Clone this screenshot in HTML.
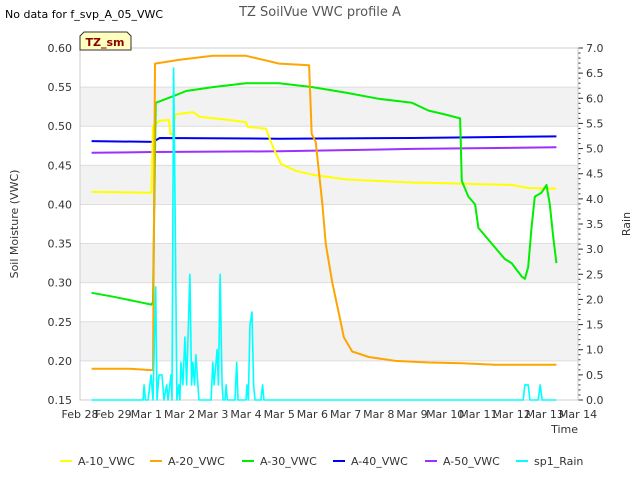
<!DOCTYPE html>
<html><head><meta charset="utf-8"><style>
body{margin:0;background:#fff;font-family:"DejaVu Sans","Liberation Sans",sans-serif;}
</style></head><body>
<svg id="c" width="640" height="480" xmlns="http://www.w3.org/2000/svg" font-family="DejaVu Sans, Liberation Sans, sans-serif"></svg>
<script>
const xTickLabels=["Feb 28","Feb 29","Mar 1","Mar 2","Mar 3","Mar 4","Mar 5","Mar 6","Mar 7","Mar 8","Mar 9","Mar 10","Mar 11","Mar 12","Mar 13","Mar 14"];
const yTicks=[0.15,0.20,0.25,0.30,0.35,0.40,0.45,0.50,0.55,0.60];
const y2Ticks=[0,0.5,1,1.5,2,2.5,3,3.5,4,4.5,5,5.5,6,6.5,7];
const a10Days=[0.35,2.15,2.2,2.4,2.68,2.72,2.8,2.86,3.4,3.6,4.5,5.0,5.05,5.6,5.75,5.85,6.05,6.5,7.0,8,9,10,11,12,13,13.5,14.35];
const a10Vals=[0.416,0.415,0.50,0.507,0.508,0.49,0.49,0.515,0.518,0.512,0.508,0.505,0.499,0.497,0.48,0.47,0.452,0.443,0.438,0.432,0.430,0.428,0.427,0.426,0.425,0.421,0.42];
const a20Days=[0.35,1.5,2.2,2.26,3,4,5,5.5,6,6.9,6.98,7.1,7.3,7.4,7.6,7.8,7.95,8.2,8.7,9.5,10.5,11.5,12.5,14.35];
const a20Vals=[0.19,0.19,0.188,0.58,0.585,0.59,0.59,0.585,0.58,0.578,0.49,0.48,0.40,0.35,0.30,0.26,0.23,0.212,0.205,0.200,0.198,0.197,0.195,0.195];
const a30Days=[0.35,1,1.8,2.15,2.2,2.28,2.6,2.9,3.2,4,5,6,7,8,9,10,10.5,11,11.45,11.5,11.7,11.9,12.0,12.3,12.6,12.8,13.0,13.3,13.4,13.5,13.6,13.7,13.9,14.05,14.15,14.25,14.35];
const a30Vals=[0.287,0.282,0.275,0.272,0.275,0.53,0.535,0.54,0.545,0.55,0.555,0.555,0.55,0.543,0.535,0.53,0.52,0.515,0.51,0.43,0.41,0.40,0.37,0.355,0.34,0.33,0.325,0.308,0.305,0.32,0.37,0.41,0.415,0.425,0.40,0.36,0.325];
const a40Days=[0.35,2.2,2.4,6,10,14.35];
const a40Vals=[0.481,0.480,0.485,0.484,0.485,0.487];
const a50Days=[0.35,2.2,6,10,14.35];
const a50Vals=[0.466,0.467,0.468,0.471,0.473];
const rainDays=[0.35,1.9,1.93,1.97,2.05,2.14,2.2,2.28,2.32,2.38,2.47,2.53,2.61,2.65,2.74,2.77,2.82,2.86,2.92,2.98,3.01,3.04,3.1,3.16,3.21,3.31,3.36,3.4,3.45,3.49,3.55,3.58,3.95,4.0,4.04,4.13,4.17,4.22,4.28,4.31,4.37,4.4,4.44,4.67,4.72,4.76,5.0,5.03,5.07,5.12,5.18,5.23,5.27,5.45,5.5,5.54,13.35,13.4,13.5,13.55,13.8,13.86,13.92,14.35];
const rainVals=[0,0,0.3,0,0,0.5,0,2.25,0,0.5,0.5,0,0.3,0,0.5,0,6.6,4.0,0,0.3,0,0.75,0.3,1.25,0.3,2.5,0.3,0.75,0.3,0.9,0.3,0,0,0.75,0.3,1.0,0.3,2.5,0.3,0,0,0.3,0,0,0.75,0,0,0.3,0,1.5,1.75,0.3,0,0,0.3,0,0,0.3,0.3,0,0,0.3,0,0];
const L=80,R=578,T=48,B=400;
const xs=d=>L+(R-L)*d/15;
const ys=v=>B-(B-T)*(v-0.15)/0.45;
const y2s=v=>B-(B-T)*v/7;
const svg=document.getElementById('c');
const NS='http://www.w3.org/2000/svg';
function mk(tag,attrs,parent){const e=document.createElementNS(NS,tag);for(const k in attrs)e.setAttribute(k,attrs[k]);(parent||svg).appendChild(e);return e;}
for(let i=0;i<4;i++){const lo=0.20+i*0.10;const r=mk('rect',{x:L,y:ys(lo+0.05),width:R-L,height:ys(lo)-ys(lo+0.05),fill:'#f2f2f2'});

}
yTicks.forEach(v=>{const g=mk('line',{x1:L,x2:R,y1:ys(v),y2:ys(v),stroke:'#dddddd','stroke-width':1});


const t=mk('text',{x:L-8,y:ys(v)+4,'text-anchor':'end','font-size':11,fill:'#333'});t.textContent=v.toFixed(2);

});
for(let i=0;i<xTickLabels.length;i++){
const t=mk('text',{x:xs(i),y:B+18,'text-anchor':'middle','font-size':11,fill:'#333'});t.textContent=xTickLabels[i];

}
y2Ticks.forEach(v=>{const tk=mk('line',{x1:R,x2:R+5,y1:y2s(v),y2:y2s(v),stroke:'#333'});


const t=mk('text',{x:R+8,y:y2s(v)+4,'font-size':11,fill:'#333'});t.textContent=v.toFixed(1);

});
for(let v=0;v<=7.001;v+=0.1){const tk=mk('line',{x1:R,x2:R+2.5,y1:y2s(v),y2:y2s(v),stroke:'#333'});

}
const ax=mk('rect',{x:L,y:T,width:R-L,height:B-T,fill:'none',stroke:'#cccccc'});


function series(days,vals,color,name,scale,w){const p=days.map((d,i)=>xs(d).toFixed(1)+','+scale(vals[i]).toFixed(1)).join(' ');
const e=mk('polyline',{points:p,fill:'none',stroke:color,'stroke-width':w||2,'stroke-linejoin':'round'});

}
series(a50Days,a50Vals,'#9b30ff','a-50-vwc-line',ys);
series(a40Days,a40Vals,'#0000ee','a-40-vwc-line',ys);
series(a10Days,a10Vals,'#ffff00','a-10-vwc-line',ys);
series(a30Days,a30Vals,'#00ee00','a-30-vwc-line',ys);
series(a20Days,a20Vals,'#ffa500','a-20-vwc-line',ys);
series(rainDays,rainVals,'#00ffff','sp1-rain-line',y2s,1.6);
function txt(x,y,s,attrs,name){const t=mk('text',Object.assign({x:x,y:y},attrs));t.textContent=s;

return t;}
txt(320,16,'TZ SoilVue VWC profile A',{'text-anchor':'middle','font-size':13,fill:'#555'},'chart-title');
txt(5,18,'No data for f_svp_A_05_VWC',{'font-size':11,fill:'#000'},'no-data-note');
txt(18,224,'Soil Moisture (VWC)',{'text-anchor':'middle','font-size':11,fill:'#333',transform:'rotate(-90 18 224)'},'y-axis-title');
txt(630,224,'Rain',{'text-anchor':'middle','font-size':11,fill:'#333',transform:'rotate(-90 630 224)'},'y2-axis-title');
txt(578,433,'Time',{'text-anchor':'end','font-size':11,fill:'#333'},'x-axis-title');
const bx=mk('path',{d:'M80,50 L80,36 L84,32 L127,32 L131,36 L131,50 Z',fill:'#ffffc0',stroke:'#333'});


txt(105,46,'TZ_sm',{'text-anchor':'middle','font-size':11,'font-weight':'bold',fill:'#8b0000'},'site-label');
const leg=[['A-10_VWC','#ffff00',60],['A-20_VWC','#ffa500',150],['A-30_VWC','#00ee00',242],['A-40_VWC','#0000ee',333],['A-50_VWC','#9b30ff',425],['sp1_Rain','#00ffff',516]];
leg.forEach(l=>{const ln=mk('line',{x1:l[2],x2:l[2]+12,y1:461,y2:461,stroke:l[1],'stroke-width':2});


txt(l[2]+18,465,l[0],{'font-size':11,fill:'#333'},'legend-entry');});
</script>
</body></html>
